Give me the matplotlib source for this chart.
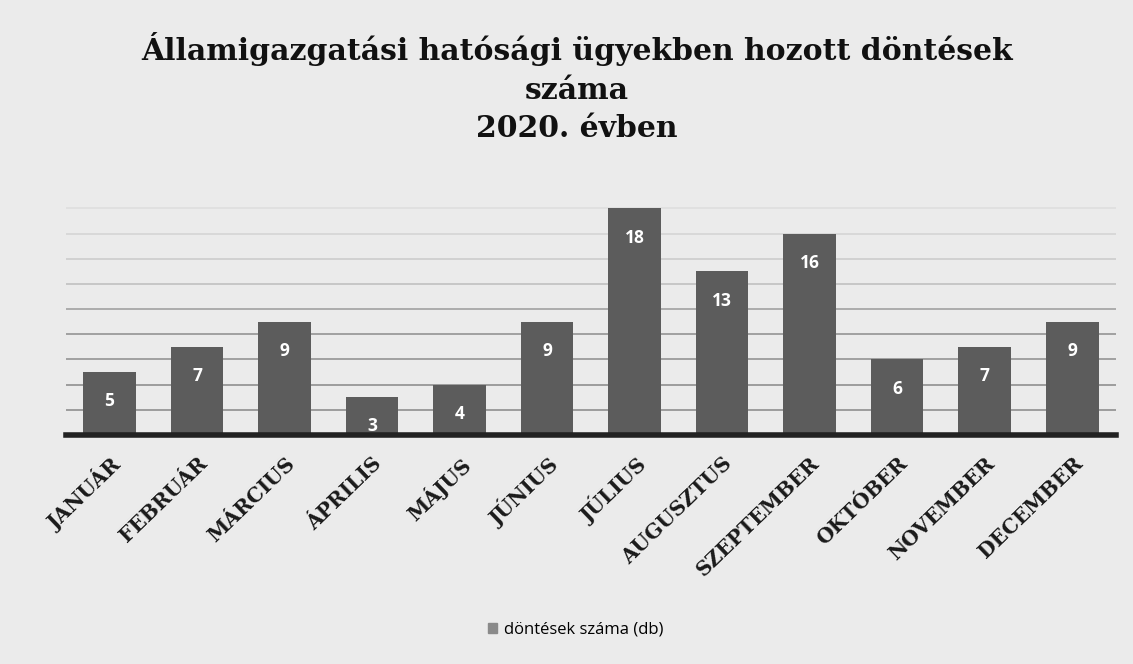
import matplotlib
matplotlib.use("Agg")
import matplotlib.pyplot as plt

months = ["JANUÁR", "FEBRUÁR", "MÁRCIUS", "ÁPRILIS", "MÁJUS", "JÚNIUS",
          "JÚLIUS", "AUGUSZTUS", "SZEPTEMBER", "OKTÓBER", "NOVEMBER", "DECEMBER"]
values = [5, 7, 9, 3, 4, 9, 18, 13, 16, 6, 7, 9]
series_name = "döntések száma (db)"
title = "Államigazgatási hatósági ügyekben hozott döntések\nszáma\n2020. évben"
grid_levels = [2, 4, 6, 8, 10, 12, 14, 16, 18]
grid_alphas = [0.75, 0.75, 0.7, 0.7, 0.6, 0.35, 0.25, 0.18, 0.1]

fig = plt.figure(figsize=(11.33, 6.64), dpi=100)
fig.patch.set_facecolor("#ebebeb")
ax = fig.add_axes([0.058, 0.345, 0.927, 0.379])
ax.set_facecolor("none")

x = list(range(len(months)))
bars = ax.bar(x, values, width=0.6, color="#5c5c5c", label=series_name, zorder=3)

for lvl, a in zip(grid_levels, grid_alphas):
    ax.axhline(lvl, color="#707070", linewidth=1.2, alpha=a, zorder=1)

for xi, v in zip(x, values):
    ax.annotate(str(v), (xi, v), xytext=(0, -21), textcoords="offset points",
                ha="center", va="center", color="white", fontsize=12.5,
                fontweight="bold", family="Open Sans", zorder=4)

ax.set_xlim(-0.5, len(months) - 0.5)
ax.set_ylim(0, 20)
ax.tick_params(axis="y", left=False, labelleft=False)
ax.tick_params(axis="x", length=0, pad=13)
for s in ["top", "right", "left"]:
    ax.spines[s].set_visible(False)
ax.spines["bottom"].set_linewidth(4)
ax.spines["bottom"].set_color("#222222")
ax.spines["bottom"].set_zorder(5)

ax.set_xticks(x)
ax.set_xticklabels(months, rotation=44, ha="right", rotation_mode="anchor",
                   fontsize=14.5, fontweight="bold", family="DejaVu Serif",
                   color="#1a1a1a")

fig.text(0.509, 0.952, title, ha="center", va="top", fontsize=21.5,
         fontweight="bold", family="DejaVu Serif", color="#111111",
         linespacing=1.42)

leg = fig.legend(handles=[bars], labels=[series_name], loc="center",
                 bbox_to_anchor=(0.508, 0.052), frameon=False,
                 prop={"family": "Open Sans", "size": 12},
                 handlelength=0.55, handleheight=0.55, handletextpad=0.4)
leg.legend_handles[0].set_color("#8a8a8a")

fig.savefig("out.png", dpi=100, facecolor=fig.get_facecolor())
